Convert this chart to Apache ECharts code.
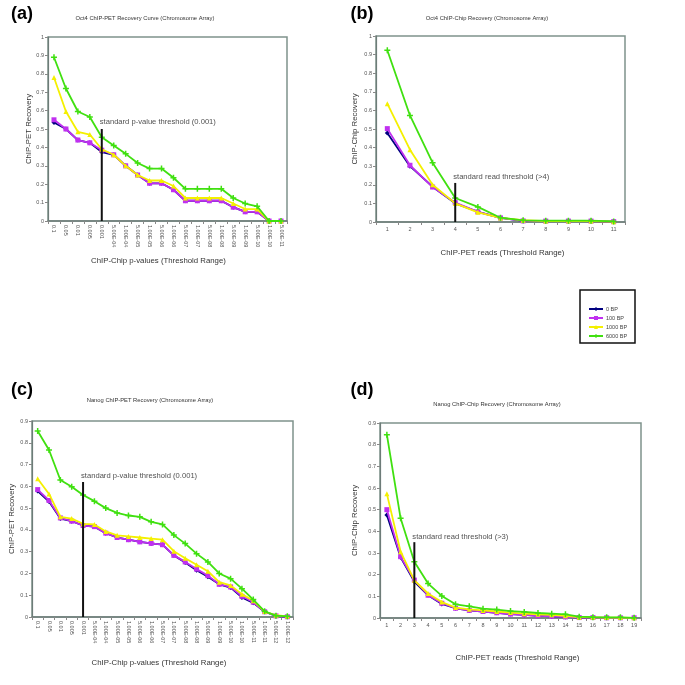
<!DOCTYPE html>
<html><head><meta charset="utf-8">
<script src="https://cdn.jsdelivr.net/npm/echarts@6/dist/echarts.min.js"></script>
<style>html,body{margin:0;padding:0;background:#fff}#c{width:685px;height:685px}</style>
</head><body><div id="c"></div>
<script>
// ---- data ----
var catsA = ['0.1','0.05','0.01','0.005','0.001','5.00E-04','1.00E-04','5.00E-05','1.00E-05','5.00E-06','1.00E-06','5.00E-07','1.00E-07','5.00E-08','1.00E-08','5.00E-09','1.00E-09','5.00E-10','1.00E-10','5.00E-11'];
var a0    = [0.535,0.50,0.44,0.425,0.375,0.36,0.30,0.25,0.205,0.205,0.17,0.11,0.11,0.11,0.11,0.075,0.05,0.05,0,0];
var a100  = [0.55,0.50,0.44,0.425,0.385,0.36,0.30,0.25,0.205,0.205,0.17,0.11,0.11,0.11,0.11,0.075,0.05,0.05,0,0];
var a1000 = [0.78,0.595,0.485,0.47,0.39,0.36,0.30,0.25,0.22,0.22,0.19,0.125,0.125,0.125,0.125,0.095,0.065,0.065,0,0];
var a6000 = [0.89,0.72,0.595,0.565,0.455,0.41,0.365,0.315,0.285,0.285,0.235,0.175,0.175,0.175,0.175,0.125,0.095,0.08,0,0];

var catsB = ['1','2','3','4','5','6','7','8','9','10','11'];
var b0    = [0.478,0.30,0.19,0.10,0.055,0.022,0.006,0.005,0.005,0.005,0.002];
var b100  = [0.502,0.305,0.188,0.104,0.055,0.022,0.006,0.005,0.005,0.005,0.002];
var b1000 = [0.636,0.389,0.20,0.10,0.052,0.022,0.01,0.005,0.005,0.005,0.002];
var b6000 = [0.923,0.573,0.319,0.129,0.081,0.023,0.009,0.007,0.007,0.007,0.003];

var catsC = ['0.1','0.05','0.01','0.005','0.001','5.00E-04','1.00E-04','5.00E-05','1.00E-05','5.00E-06','1.00E-06','5.00E-07','1.00E-07','5.00E-08','1.00E-08','5.00E-09','1.00E-09','5.00E-10','1.00E-10','5.00E-11','1.00E-11','5.00E-12','1.00E-12'];
var c0    = [0.578,0.53,0.452,0.44,0.42,0.415,0.385,0.365,0.355,0.345,0.338,0.332,0.283,0.25,0.215,0.185,0.15,0.135,0.09,0.065,0.024,0.005,0.001];
var c100  = [0.585,0.535,0.455,0.44,0.42,0.415,0.385,0.365,0.355,0.345,0.338,0.332,0.283,0.253,0.22,0.19,0.15,0.138,0.095,0.068,0.024,0.005,0.001];
var c1000 = [0.635,0.565,0.46,0.452,0.428,0.425,0.393,0.375,0.37,0.365,0.36,0.355,0.302,0.27,0.24,0.21,0.16,0.145,0.105,0.075,0.025,0.008,0.003];
var c6000 = [0.854,0.767,0.629,0.598,0.56,0.532,0.50,0.478,0.466,0.46,0.437,0.425,0.376,0.337,0.291,0.253,0.20,0.176,0.13,0.08,0.026,0.006,0.003];

var catsD = ['1','2','3','4','5','6','7','8','9','10','11','12','13','14','15','16','17','18','19'];
var d0    = [0.475,0.28,0.168,0.105,0.065,0.045,0.035,0.03,0.024,0.018,0.014,0.01,0.008,0.005,0.002,0.002,0.001,0.001,0.001];
var d100  = [0.50,0.283,0.175,0.105,0.068,0.045,0.035,0.03,0.024,0.018,0.014,0.01,0.008,0.005,0.002,0.002,0.001,0.001,0.001];
var d1000 = [0.573,0.306,0.174,0.113,0.074,0.048,0.04,0.035,0.03,0.025,0.02,0.017,0.015,0.01,0.004,0.003,0.002,0.002,0.001];
var d6000 = [0.846,0.46,0.26,0.159,0.102,0.063,0.054,0.043,0.039,0.032,0.028,0.023,0.02,0.017,0.006,0.004,0.003,0.003,0.001];

var seriesNames = ['0 BP','100 BP','1000 BP','6000 BP'];
// thresholds: [category, line top, label height, label text]
var thrA = ['0.001', 0.5, 0.538, 'standard p-value threshold (0.001)'];
var thrB = ['4', 0.21, 0.242, 'standard read threshold (>4)'];
var thrC = ['0.001', 0.62, 0.647, 'standard p-value threshold (0.001)'];
var thrD = ['3', 0.35, 0.374, 'standard read threshold (>3)'];

// ---- styling ----
var FONT = '"Liberation Sans", Arial, sans-serif';
var colors = ['#000080','#c030f0','#f4f000','#40e010'];
var symbols = ['diamond','rect','triangle','path://M3,0h2v3h3v2h-3v3h-2v-3h-3v-2h3z'];
var symSizes = [5,5,5,6];
var borderCol = '#7f928c';

var grids = [
  {left:48, top:37, width:239, height:184},
  {left:376, top:36, width:249, height:186},
  {left:32, top:421, width:261, height:196},
  {left:380, top:423, width:261, height:195}
];
var panels = [
  {cats:catsA, data:[a0,a100,a1000,a6000], thr:thrA, ymax:1, rot:-90, xname:'ChIP-Chip p-values (Threshold Range)', yname:'ChIP-PET Recovery', xgap:36, ygap:15, xpad:[0,18,0,0]},
  {cats:catsB, data:[b0,b100,b1000,b6000], thr:thrB, ymax:1, rot:0, xname:'ChIP-PET reads (Threshold Range)', yname:'ChIP-Chip Recovery', xgap:27, ygap:17, xpad:[0,0,0,4]},
  {cats:catsC, data:[c0,c100,c1000,c6000], thr:thrC, ymax:0.9, rot:-90, xname:'ChIP-Chip p-values (Threshold Range)', yname:'ChIP-PET Recovery', xgap:42, ygap:16, xpad:[0,7,0,0]},
  {cats:catsD, data:[d0,d100,d1000,d6000], thr:thrD, ymax:0.9, rot:0, xname:'ChIP-PET reads (Threshold Range)', yname:'ChIP-Chip Recovery', xgap:36, ygap:21, xpad:[0,0,0,14]}
];

var xAxes = [], yAxes = [], series = [];
panels.forEach(function(p, i){
  xAxes.push({
    type:'category', gridIndex:i, data:p.cats, boundaryGap:true,
    name:p.xname, nameLocation:'middle', nameGap:p.xgap,
    nameTextStyle:{fontFamily:FONT, fontSize:7.8, color:'#333', padding:p.xpad},
    axisLine:{lineStyle:{color:'#6d7c78', width:1.5}},
    axisTick:{show:true, length:3, lineStyle:{color:'#888'}},
    axisLabel:{rotate:p.rot, fontFamily:FONT, fontSize:5.5, color:'#555', margin:4, interval:0},
    splitLine:{show:false}
  });
  yAxes.push({
    type:'value', gridIndex:i, min:0, max:p.ymax, interval:0.1,
    name:p.yname, nameLocation:'middle', nameGap:p.ygap,
    nameTextStyle:{fontFamily:FONT, fontSize:7.8, color:'#333'},
    axisLine:{show:true, lineStyle:{color:'#6d7c78', width:1.2}},
    axisTick:{show:true, length:3, lineStyle:{color:'#888'}},
    axisLabel:{fontFamily:FONT, fontSize:5.5, color:'#555', margin:4,
      formatter:function(v){return String(Math.round(v*10)/10);}},
    splitLine:{show:false}
  });
  p.data.forEach(function(arr, k){
    series.push({
      type:'line', name:seriesNames[k], xAxisIndex:i, yAxisIndex:i, data:arr,
      symbol:symbols[k], symbolSize:symSizes[k], showSymbol:true,
      lineStyle:{color:colors[k], width:1.8}, itemStyle:{color:colors[k]},
      z:2+k, animation:false, silent:true
    });
  });
  series.push({
    type:'line', name:'thr'+i, xAxisIndex:i, yAxisIndex:i,
    data:[[p.thr[0],0],[p.thr[0],p.thr[1]]],
    symbol:'none', lineStyle:{color:'#111', width:2}, z:10, animation:false, silent:true
  });
  series.push({
    type:'scatter', name:'lbl'+i, xAxisIndex:i, yAxisIndex:i,
    data:[[p.thr[0],p.thr[2]]], symbolSize:0,
    label:{show:true, position:'right', distance:0, offset:[-2,0], formatter:p.thr[3],
      fontFamily:FONT, fontSize:7.6, color:'#222'},
    z:11, animation:false, silent:true
  });
});

var gridOpts = grids.map(function(g){
  return {left:g.left, top:g.top, width:g.width, height:g.height, show:true,
    borderColor:borderCol, borderWidth:1.5, backgroundColor:'#fff', containLabel:false};
});

function txt(x, y, s, size, bold){
  return {type:'text', x:x, y:y, silent:true,
    style:{text:s, fontFamily:FONT, fontSize:size, fontWeight:bold?'bold':'normal',
      fill:bold?'#000':'#333', align:'center', verticalAlign:'middle'}};
}

var option = {
  backgroundColor:'#fff',
  animation:false,
  grid:gridOpts,
  xAxis:xAxes,
  yAxis:yAxes,
  series:series,
  legend:{
    data:seriesNames, orient:'vertical', left:583, top:301,
    itemWidth:14, itemHeight:5, itemGap:3,
    textStyle:{fontFamily:FONT, fontSize:5.5, color:'#444', padding:[0,0,0,-2]},
    selectedMode:false
  },
  graphic:[
    {type:'rect', shape:{x:580, y:290, width:55, height:53}, style:{fill:'none', stroke:'#111', lineWidth:1.5}, silent:true},
    txt(22, 14, '(a)', 18, true),
    txt(362, 14, '(b)', 18, true),
    txt(22, 390, '(c)', 18, true),
    txt(362, 390, '(d)', 18, true),
    txt(145, 18, 'Oct4 ChIP-PET Recovery Curve (Chromosome Array)', 5.8, false),
    txt(487, 18, 'Oct4 ChIP-Chip Recovery (Chromosome Array)', 5.8, false),
    txt(150, 400, 'Nanog ChIP-PET Recovery (Chromosome Array)', 5.8, false),
    txt(497, 404, 'Nanog ChIP-Chip Recovery (Chromosome Array)', 5.8, false)
  ]
};
var chart = echarts.init(document.getElementById('c'), null, {renderer:'canvas'});
chart.setOption(option);
</script></body></html>
